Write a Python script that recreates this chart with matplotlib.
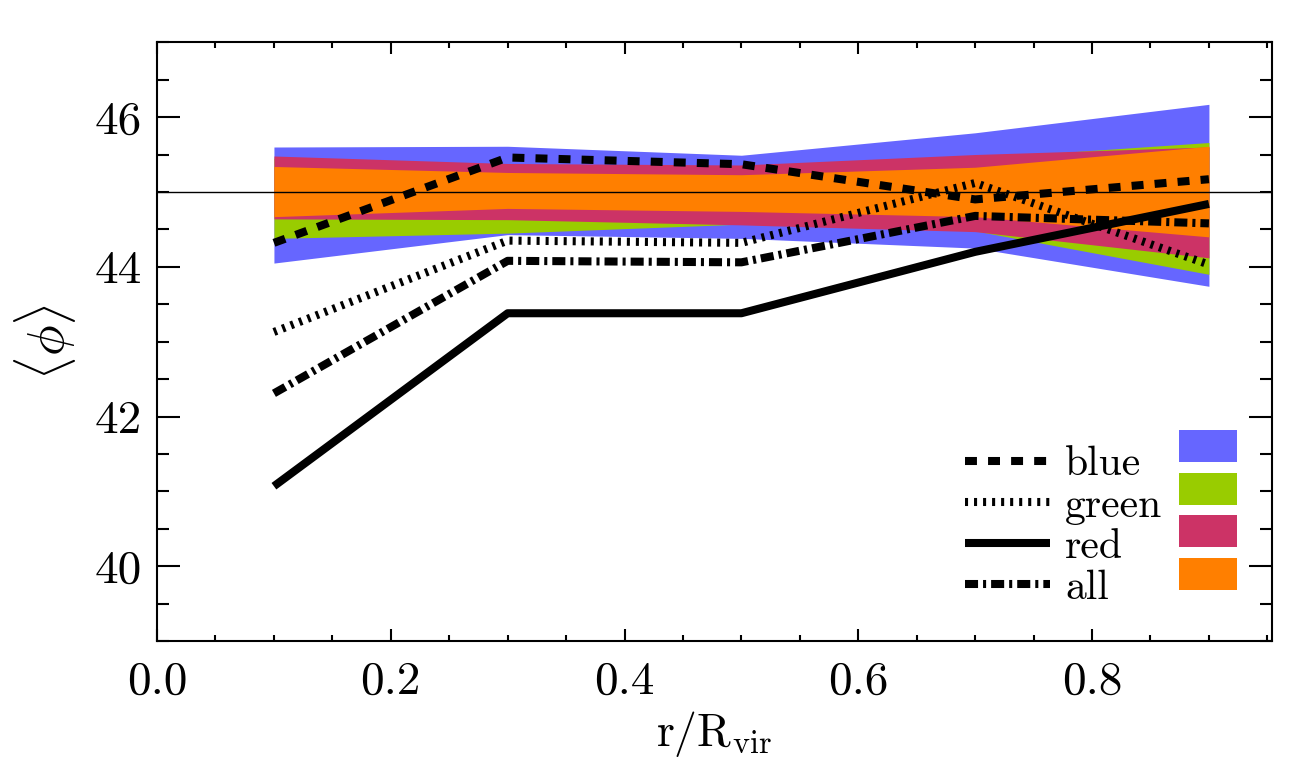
import numpy as np
import matplotlib
matplotlib.use("Agg")
import matplotlib.pyplot as plt
from matplotlib.ticker import MultipleLocator
from matplotlib.patches import Patch

plt.rcParams["font.family"] = "serif"
plt.rcParams["font.serif"] = ["cmr10", "DejaVu Serif"]
plt.rcParams["mathtext.fontset"] = "cm"
plt.rcParams["axes.formatter.use_mathtext"] = True
plt.rcParams["lines.scale_dashes"] = False

# radial bins
r = [0.1, 0.3, 0.5, 0.7, 0.9]

# median angle per sample
blue_med = [44.32, 45.46, 45.37, 44.90, 45.17]
green_med = [43.13, 44.35, 44.32, 45.12, 44.03]
red_med = [41.07, 43.38, 43.38, 44.20, 44.84]
all_med = [42.31, 44.08, 44.06, 44.68, 44.58]

# random-expectation bands (lower / upper)
blue_lo = [44.05, 44.43, 44.38, 44.25, 43.74]
blue_hi = [45.60, 45.61, 45.49, 45.79, 46.17]
green_lo = [44.38, 44.45, 44.57, 44.48, 43.90]
green_hi = [45.45, 45.35, 45.30, 45.45, 45.66]
red_lo = [44.64, 44.63, 44.56, 44.47, 44.12]
red_hi = [45.48, 45.38, 45.36, 45.50, 45.60]
all_lo = [44.67, 44.78, 44.74, 44.67, 44.40]
all_hi = [45.34, 45.26, 45.23, 45.33, 45.61]

names = ["blue", "green", "red", "all"]
c_blue = "#6666ff"
c_green = "#99cc00"
c_red = "#cc3366"
c_all = "#ff7f00"

fig = plt.figure(figsize=(12.98, 7.67), dpi=100)
ax = fig.add_axes([0.121, 0.164, 0.859, 0.781])

ax.fill_between(r, blue_lo, blue_hi, color=c_blue, lw=0, zorder=1)
ax.fill_between(r, green_lo, green_hi, color=c_green, lw=0, zorder=2)
ax.fill_between(r, red_lo, red_hi, color=c_red, lw=0, zorder=3)
ax.fill_between(r, all_lo, all_hi, color=c_all, lw=0, zorder=4)

ax.axhline(45, color="black", lw=1.0, zorder=5)

lw = 5.8
dash_blue = (0, (8.6, 8.0))
dash_green = (0, (2.2, 4.3))
dash_all = (0, (9.4, 3.6, 2.2, 3.6))

l_blue, = ax.plot(r, blue_med, color="black", lw=lw, linestyle=dash_blue,
                  dash_capstyle="butt", zorder=6)
l_green, = ax.plot(r, green_med, color="black", lw=lw, linestyle=dash_green,
                   dash_capstyle="butt", zorder=6)
l_red, = ax.plot(r, red_med, color="black", lw=lw, linestyle="-",
                 solid_capstyle="butt", zorder=6)
l_all, = ax.plot(r, all_med, color="black", lw=lw, linestyle=dash_all,
                 dash_capstyle="butt", zorder=6)

ax.set_xlim(0.0, 0.954)
ax.set_ylim(39, 47)
ax.xaxis.set_major_locator(MultipleLocator(0.2))
ax.xaxis.set_minor_locator(MultipleLocator(0.05))
ax.yaxis.set_major_locator(MultipleLocator(2))
ax.yaxis.set_minor_locator(MultipleLocator(0.5))
ax.xaxis.set_major_formatter(plt.FuncFormatter(lambda v, p: f"{v:.1f}"))
ax.yaxis.set_major_formatter(plt.FuncFormatter(lambda v, p: f"{v:.0f}"))

for s in ax.spines.values():
    s.set_linewidth(1.5)
ax.tick_params(axis="both", which="both", direction="in", top=True, right=True,
               width=1.5, labelsize=34)
ax.tick_params(axis="x", which="major", length=8.6, pad=14)
ax.tick_params(axis="x", which="minor", length=4.3)
ax.tick_params(axis="y", which="major", length=16.5, pad=11)
ax.tick_params(axis="y", which="minor", length=8.6)

ax.set_xlabel(r"$\mathrm{r/R_{vir}}$", fontsize=33, labelpad=5)
ax.set_ylabel(r"$\langle\phi\rangle$", fontsize=37, labelpad=12)

leg1 = ax.legend([l_blue, l_green, l_red, l_all], names, loc="lower left",
                 bbox_to_anchor=(0.7245, 0.057), frameon=False, fontsize=30,
                 handlelength=2.05, handletextpad=0.36, labelspacing=0.09,
                 borderaxespad=0, borderpad=0)
ax.add_artist(leg1)
patches = [Patch(color=c, lw=0) for c in [c_blue, c_green, c_red, c_all]]
ax.legend(patches, ["", "", "", ""], loc="lower left",
          bbox_to_anchor=(0.917, 0.075), frameon=False, fontsize=30,
          handlelength=1.39, handleheight=0.8, handletextpad=0,
          labelspacing=0.1, borderaxespad=0, borderpad=0)

fig.savefig("out.png", dpi=100)
